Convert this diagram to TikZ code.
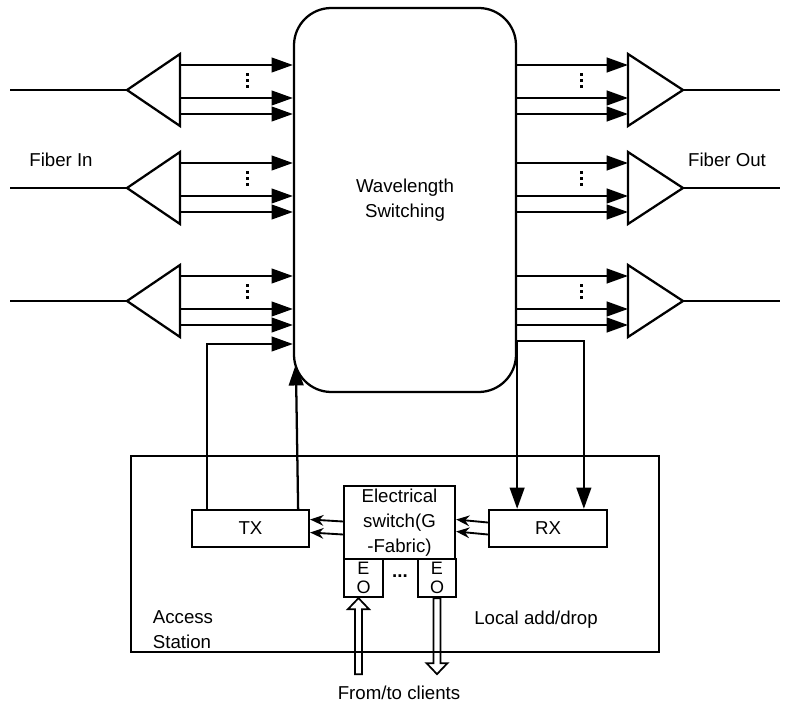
\documentclass[tikz,border=0pt]{standalone}
\usepackage{fontspec}
\setmainfont{Liberation Sans}
\usetikzlibrary{arrows.meta, calc}

\tikzset{
  box/.style={draw, inner sep=0pt, align=center},
  sig/.style={-{Triangle[length=16pt,width=11pt]}},
  small/.style={line width=1.4pt, -{Stealth[length=10pt,width=8pt]}},
}

\begin{document}
\begin{tikzpicture}[x=0.75pt, y=-0.75pt, line width=1.7pt, font=\fontsize{14}{18.75}\selectfont]
    \useasboundingbox (0,0) rectangle (790,706);

    % Wavelength switch
    \node[box, rounded corners=28pt, minimum width=166.5pt, minimum height=288pt] (sw) at (405,200) {Wavelength\\Switching};

    % Fiber rows: input and output amplifiers
    \foreach \y [count=\i] in {90,188,301} {
        \coordinate (fin\i) at (10,\y);
        \coordinate (ain\i) at (127,\y);
        \draw (fin\i) -- (ain\i);
        \draw (ain\i) -- ++(53,-36) -- ++(0,72) -- cycle;
        \foreach \d in {-25,8,24}
            \draw[sig] (180,\y+\d) -- (sw.west |- 0,\y+\d);

        \coordinate (aout\i) at (683,\y);
        \coordinate (fout\i) at (780,\y);
        \draw (aout\i) -- ++(-55,-36) -- ++(0,72) -- cycle;
        \draw (aout\i) -- (fout\i);
        \foreach \d in {-25,8,24}
            \draw[sig] (sw.east |- 0,\y+\d) -- (628,\y+\d);

        % wavelength dots
        \foreach \x in {247,581}
            \foreach \d in {-15,-9,-3}
                \fill (\x-1.5,\y+\d-1.5) rectangle ++(3,3);
    }

    % Labels
    \node (fibin) at (61,160) {Fiber In};
    \node (fibout) at (727,160) {Fiber Out};

    % Access station
    \node[box, minimum width=396pt, minimum height=147pt] (st) at (395,554) {};
    \node[box, minimum width=87.75pt, minimum height=27.75pt] (tx) at (250.5,528.5) {TX};
    \node[box, minimum width=88.5pt, minimum height=27.75pt] (rx) at (548,528.5) {RX};
    \node[box, minimum width=83.25pt, minimum height=54.75pt] (es) at (399.5,522.5) {Electrical\\switch(G\\-Fabric)};
    \node[box, minimum width=29.25pt, minimum height=28.5pt, font=\fontsize{13.5}{14.5}\selectfont] (eo1) at (363.5,578) {E\\O};
    \node[box, minimum width=28.5pt, minimum height=28.5pt, font=\fontsize{13.5}{14.5}\selectfont] (eo2) at (437,578) {E\\O};
    \node (dts) at (400,576) {\textbf{...}};
    \node[align=left] (acc) at (183,630) {Access\\Station};
    \node (lad) at (536,620) {Local add/drop};
    \node (cli) at (399,693) {From/to clients};

    % Add path
    \draw[sig] ($(tx.north west)+(16,0)$) |- (sw.west |- 0,344);
    \draw[sig] ($(tx.north east)+(-12,0)$) -- ($(sw.south west)+(3,-29)$);

    % Drop path
    \draw[sig] (sw.east |- 0,340) -- (sw.east |- rx.north);
    \draw[sig] (sw.east |- 0,341) -| ($(rx.north west)+(96,0)$);

    % Electrical switch links
    \draw[small] ($(es.west)+(0,-1)$) -- ($(tx.east)+(0,-9)$);
    \draw[small] ($(es.west)+(0,12)$) -- ($(tx.east)+(0,4)$);
    \draw[small] ($(rx.west)+(0,-6)$) -- ($(es.east)+(0,-3)$);
    \draw[small] ($(rx.west)+(0,6)$) -- ($(es.east)+(0,9)$);

    % From/to clients
    \draw[line width=1.3pt] ($(eo1.south)+(-5,0)$) -- ++(-10.5,11) -- ++(7,0) -- ++(0,65) -- ++(7,0) -- ++(0,-65) -- ++(7,0) -- cycle;
    \draw[line width=1.3pt] ($(eo2.south)+(-3.5,0)$) -- ++(0,65) -- ++(-7,0) -- ++(10.5,11) -- ++(10.5,-11) -- ++(-7,0) -- ++(0,-65) -- cycle;
\end{tikzpicture}
\end{document}
